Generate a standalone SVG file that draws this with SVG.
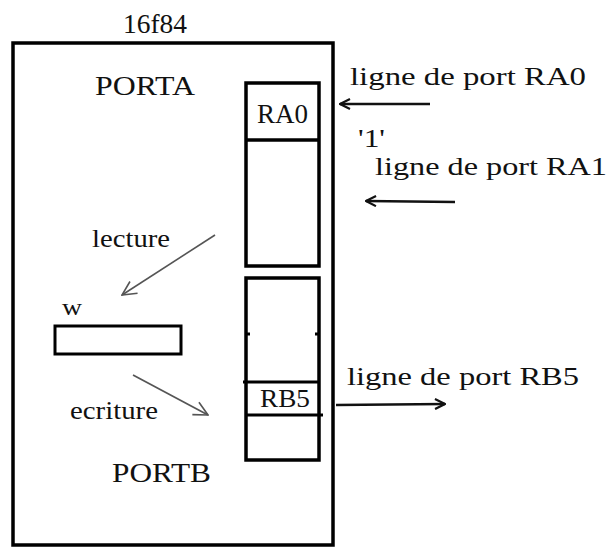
<svg xmlns="http://www.w3.org/2000/svg" width="610" height="548" viewBox="0 0 610 548">
<style>
text{font-family:"Liberation Serif","Times New Roman",serif;fill:#111;}
.box{fill:none;stroke:#000;stroke-width:3.5;}
.thin{fill:none;stroke:#000;stroke-width:3;}
.port{stroke:#111;stroke-width:2.5;fill:none;}
.rw{stroke:#555;stroke-width:1.6;fill:none;}
</style>
<defs>
<marker id="ah" viewBox="0 0 12 12" refX="11" refY="6" markerWidth="12" markerHeight="12" markerUnits="userSpaceOnUse" orient="auto">
<path d="M1,1 L11,6 L1,11" fill="none" stroke="#111" stroke-width="2.2"/>
</marker>
<marker id="ahg" viewBox="0 0 16 16" refX="15" refY="8" markerWidth="16" markerHeight="16" markerUnits="userSpaceOnUse" orient="auto">
<path d="M1,1 L15,8 L1,15" fill="none" stroke="#555" stroke-width="1.6"/>
</marker>
</defs>
<g id="chip">
<rect class="box" x="13" y="43" width="320" height="502"/>
<text x="123" y="33" font-size="27" textLength="64" lengthAdjust="spacingAndGlyphs">16f84</text>
</g>
<g id="porta">
<rect class="box" x="246" y="83" width="73" height="183"/>
<line class="box" x1="246" y1="140" x2="319" y2="140"/>
<text x="95" y="95" font-size="27" textLength="100" lengthAdjust="spacingAndGlyphs">PORTA</text>
<text x="257" y="123" font-size="27" textLength="51" lengthAdjust="spacingAndGlyphs">RA0</text>
</g>
<g id="portb">
<rect class="box" x="246" y="278" width="73" height="182"/>
<line class="thin" x1="243" y1="382" x2="319" y2="382"/>
<line class="thin" x1="246" y1="415" x2="323" y2="415"/>
<line x1="246" y1="334" x2="250" y2="334" stroke="#000" stroke-width="3"/>
<line x1="315" y1="334" x2="319" y2="334" stroke="#000" stroke-width="3"/>
<text x="112" y="482" font-size="27" textLength="99" lengthAdjust="spacingAndGlyphs">PORTB</text>
<text x="260" y="407" font-size="25" textLength="50" lengthAdjust="spacingAndGlyphs">RB5</text>
</g>
<g id="w">
<rect class="thin" x="55" y="326" width="126" height="28"/>
<text x="62" y="315" font-size="23" textLength="20" lengthAdjust="spacingAndGlyphs">w</text>
</g>
<g id="labels">
<text x="350" y="85" font-size="26" textLength="236" lengthAdjust="spacingAndGlyphs">ligne de port RA0</text>
<text x="358" y="147" font-size="26" textLength="27" lengthAdjust="spacingAndGlyphs">'1'</text>
<text x="375" y="175" font-size="26" textLength="232" lengthAdjust="spacingAndGlyphs">ligne de port  RA1</text>
<text x="347" y="385" font-size="26" textLength="232" lengthAdjust="spacingAndGlyphs">ligne de port RB5</text>
<text x="92" y="247" font-size="25" textLength="78" lengthAdjust="spacingAndGlyphs">lecture</text>
<text x="70" y="419" font-size="25" textLength="88" lengthAdjust="spacingAndGlyphs">ecriture</text>
</g>
<g id="connectors">
<line class="port" x1="430" y1="104" x2="340" y2="104" marker-end="url(#ah)"/>
<line class="port" x1="455" y1="202" x2="366" y2="201" marker-end="url(#ah)"/>
<line class="port" x1="336" y1="405" x2="445" y2="404" marker-end="url(#ah)"/>
<line class="rw" x1="215" y1="235" x2="122" y2="295" marker-end="url(#ahg)"/>
<line class="rw" x1="133" y1="375" x2="208" y2="415" marker-end="url(#ahg)"/>
</g>
</svg>
